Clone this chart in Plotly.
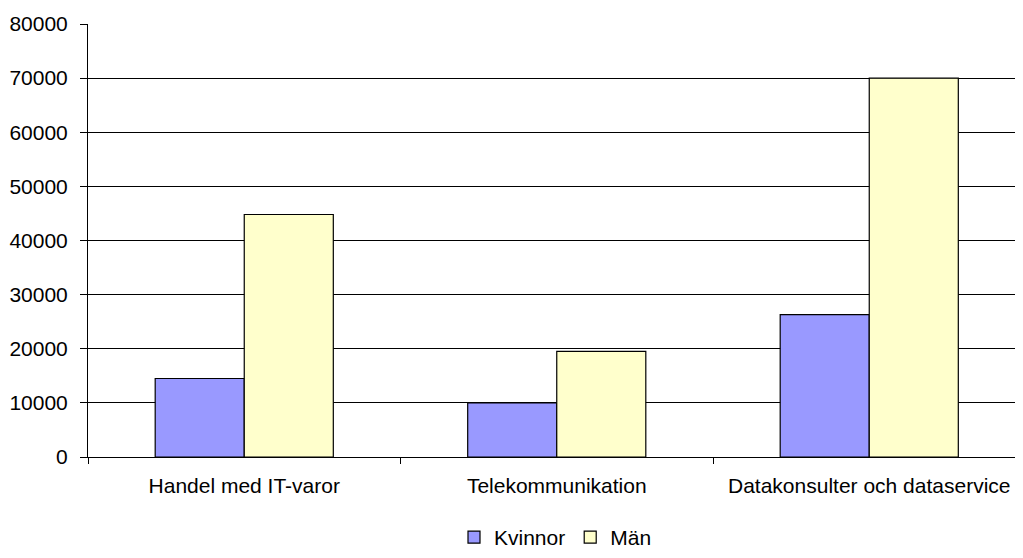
import plotly.graph_objects as go

categories = ["Handel med IT-varor", "Telekommunikation", "Datakonsulter och dataservice"]
kvinnor = [14500, 10000, 26300]
man = [44800, 19500, 70000]
y_ticks = [0, 10000, 20000, 30000, 40000, 50000, 60000, 70000, 80000]

FONT = "Arial, 'Liberation Sans', sans-serif"

fig = go.Figure()
fig.add_trace(go.Bar(
    name="Kvinnor", x=categories, y=kvinnor,
    marker=dict(color="#9999FF", line=dict(color="#000000", width=1.2)),
))
fig.add_trace(go.Bar(
    name="Män", x=categories, y=man,
    marker=dict(color="#FFFFCC", line=dict(color="#000000", width=1.2)),
))

fig.update_layout(
    width=1015, height=550,
    margin=dict(l=80, r=0, t=16, b=101),
    paper_bgcolor="white", plot_bgcolor="white",
    barmode="group", bargap=0.43, bargroupgap=0,
    font=dict(family=FONT, size=21, color="#000000"),
    showlegend=True,
    legend=dict(orientation="h", x=0.5, xanchor="center", y=0, yanchor="bottom",
                yref="container", font=dict(size=21), itemclick=False,
                tracegroupgap=0),
)
fig.update_xaxes(
    type="category", range=[-0.5, 2.492],
    showline=True, linecolor="#000000", linewidth=1,
    ticks="outside", tickson="boundaries", ticklen=6, tickcolor="#000000",
    showgrid=False, ticklabelstandoff=10,
)
fig.update_yaxes(
    range=[0, 80000], tickvals=y_ticks, ticktext=[str(v) for v in y_ticks],
    showline=True, linecolor="#000000", linewidth=1,
    ticks="outside", ticklen=7, tickcolor="#000000",
    showgrid=True, gridcolor="#000000", gridwidth=1,
    zeroline=False, ticklabelstandoff=8,
)

fig.write_html("out.html")
